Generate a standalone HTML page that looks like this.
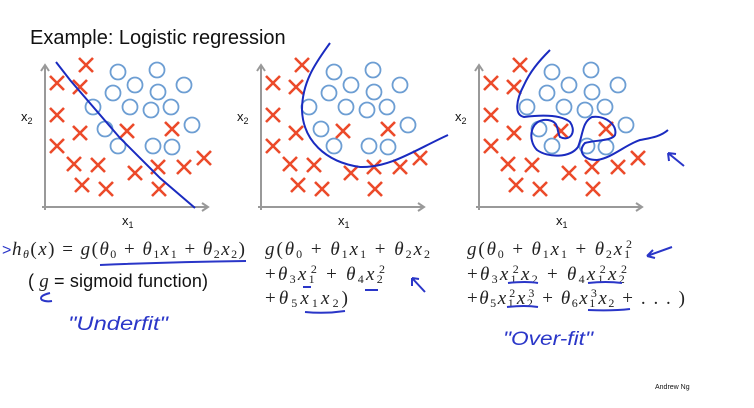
<!DOCTYPE html>
<html><head><meta charset="utf-8">
<style>
html,body{margin:0;padding:0;background:#fff;width:754px;height:408px;overflow:hidden}
svg{display:block}
.m{font-family:"Liberation Serif",serif;font-style:italic;font-size:19px;fill:#222}
.s{font-family:"Liberation Sans",sans-serif;fill:#111}
.h{font-family:"Liberation Sans",sans-serif;fill:#2a36c8;font-style:italic}
</style></head>
<body>
<svg id="c" width="754" height="408" viewBox="0 0 754 408">
<text x="30" y="44" class="s" font-size="20">Example: Logistic regression</text>
<text x="655" y="389" class="s" font-size="7">Andrew Ng</text>

<g>
<text x="2" y="255" fill="#2a36c8" font-size="16" font-family="Liberation Sans,sans-serif">&gt;</text>
<text x="12" y="255" class="m" textLength="233" lengthAdjust="spacing">h<tspan font-size="12" dy="3">θ</tspan><tspan dy="-3" font-style="normal">(</tspan>x<tspan font-style="normal">) = </tspan>g<tspan font-style="normal">(</tspan>θ<tspan font-size="12" dy="3" font-style="normal">0</tspan><tspan dy="-3" font-style="normal"> + </tspan>θ<tspan font-size="12" dy="3" font-style="normal">1</tspan><tspan dy="-3">x</tspan><tspan font-size="12" dy="3" font-style="normal">1</tspan><tspan dy="-3" font-style="normal"> + </tspan>θ<tspan font-size="12" dy="3" font-style="normal">2</tspan><tspan dy="-3">x</tspan><tspan font-size="12" dy="3" font-style="normal">2</tspan><tspan dy="-3" font-style="normal">)</tspan></text>
<path d="M100 265 Q170 262 246 261" stroke="#2a36c8" stroke-width="2" fill="none"/>
<text x="28" y="287" class="s" font-size="18" textLength="180" lengthAdjust="spacing">( <tspan class="m" font-size="18">g</tspan> = sigmoid function)</text>
<path d="M50 293 q-12 3 -8 7 q4 2 10 1" stroke="#2a36c8" stroke-width="2" fill="none"/>
<text x="68" y="330" class="h" font-size="19" textLength="100" lengthAdjust="spacingAndGlyphs">"Underfit"</text>
</g>

<g>
<text x="265" y="255" class="m" textLength="165" lengthAdjust="spacing">g<tspan font-style="normal">(</tspan>θ<tspan font-size="12" dy="3" font-style="normal">0</tspan><tspan dy="-3" font-style="normal"> + </tspan>θ<tspan font-size="12" dy="3" font-style="normal">1</tspan><tspan dy="-3">x</tspan><tspan font-size="12" dy="3" font-style="normal">1</tspan><tspan dy="-3" font-style="normal"> + </tspan>θ<tspan font-size="12" dy="3" font-style="normal">2</tspan><tspan dy="-3">x</tspan><tspan font-size="12" dy="3" font-style="normal">2</tspan></text>
<text x="265" y="280" class="m" textLength="120" lengthAdjust="spacing"><tspan font-style="normal">+</tspan>θ<tspan font-size="12" dy="3" font-style="normal">3</tspan><tspan dy="-3">x</tspan><tspan font-size="12" dy="3" font-style="normal">1</tspan><tspan font-size="12" dx="-6" dy="-10" font-style="normal">2</tspan><tspan dy="7" font-style="normal"> + </tspan>θ<tspan font-size="12" dy="3" font-style="normal">4</tspan><tspan dy="-3">x</tspan><tspan font-size="12" dy="3" font-style="normal">2</tspan><tspan font-size="12" dx="-6" dy="-10" font-style="normal">2</tspan></text>
<text x="265" y="304" class="m" textLength="83" lengthAdjust="spacing"><tspan font-style="normal">+</tspan>θ<tspan font-size="12" dy="3" font-style="normal">5</tspan><tspan dy="-3">x</tspan><tspan font-size="12" dy="3" font-style="normal">1</tspan><tspan dy="-3">x</tspan><tspan font-size="12" dy="3" font-style="normal">2</tspan><tspan dy="-3" font-style="normal">)</tspan></text>
<path d="M303 287 h8 M365 290 h13 M305 312 q20 2 40 -1" stroke="#2a36c8" stroke-width="2" fill="none"/>
<path d="M425 292 l-13 -14 M412 278 l0 8 M412 278 l7 1" stroke="#2a36c8" stroke-width="2" fill="none"/>
</g>

<g>
<text x="467" y="255" class="m" textLength="165" lengthAdjust="spacing">g<tspan font-style="normal">(</tspan>θ<tspan font-size="12" dy="3" font-style="normal">0</tspan><tspan dy="-3" font-style="normal"> + </tspan>θ<tspan font-size="12" dy="3" font-style="normal">1</tspan><tspan dy="-3">x</tspan><tspan font-size="12" dy="3" font-style="normal">1</tspan><tspan dy="-3" font-style="normal"> + </tspan>θ<tspan font-size="12" dy="3" font-style="normal">2</tspan><tspan dy="-3">x</tspan><tspan font-size="12" dy="3" font-style="normal">1</tspan><tspan font-size="12" dx="-6" dy="-10" font-style="normal">2</tspan></text>
<text x="467" y="280" class="m" textLength="160" lengthAdjust="spacing"><tspan font-style="normal">+</tspan>θ<tspan font-size="12" dy="3" font-style="normal">3</tspan><tspan dy="-3">x</tspan><tspan font-size="12" dy="3" font-style="normal">1</tspan><tspan font-size="12" dx="-6" dy="-10" font-style="normal">2</tspan><tspan dy="7">x</tspan><tspan font-size="12" dy="3" font-style="normal">2</tspan><tspan dy="-3" font-style="normal"> + </tspan>θ<tspan font-size="12" dy="3" font-style="normal">4</tspan><tspan dy="-3">x</tspan><tspan font-size="12" dy="3" font-style="normal">1</tspan><tspan font-size="12" dx="-6" dy="-10" font-style="normal">2</tspan><tspan dy="7">x</tspan><tspan font-size="12" dy="3" font-style="normal">2</tspan><tspan font-size="12" dx="-6" dy="-10" font-style="normal">2</tspan></text>
<text x="467" y="304" class="m" textLength="218" lengthAdjust="spacing"><tspan font-style="normal">+</tspan>θ<tspan font-size="12" dy="3" font-style="normal">5</tspan><tspan dy="-3">x</tspan><tspan font-size="12" dy="3" font-style="normal">1</tspan><tspan font-size="12" dx="-6" dy="-10" font-style="normal">2</tspan><tspan dy="7">x</tspan><tspan font-size="12" dy="3" font-style="normal">2</tspan><tspan font-size="12" dx="-6" dy="-10" font-style="normal">3</tspan><tspan dy="7" font-style="normal"> + </tspan>θ<tspan font-size="12" dy="3" font-style="normal">6</tspan><tspan dy="-3">x</tspan><tspan font-size="12" dy="3" font-style="normal">1</tspan><tspan font-size="12" dx="-6" dy="-10" font-style="normal">3</tspan><tspan dy="7">x</tspan><tspan font-size="12" dy="3" font-style="normal">2</tspan><tspan dy="-3" font-style="normal"> + . . . )</tspan></text>
<path d="M508 283 q18 -2 30 0 M588 283 q18 -2 34 0 M507 307 q18 -2 31 0 M588 310 q25 1 42 -1" stroke="#2a36c8" stroke-width="2" fill="none"/>
<path d="M672 247 l-25 9 M647 256 l6 -6 M647 256 l8 2" stroke="#2a36c8" stroke-width="2" fill="none"/>
<text x="503" y="345" class="h" font-size="19" textLength="90" lengthAdjust="spacingAndGlyphs">"Over-fit"</text>
</g>
</svg>
<script>
const crossX = [41,12,35,12,35,82,127,12,29,53,90,113,139,159,37,61,114];
const crossY = [142,124,120,92,74,76,78,61,43,42,34,40,40,49,22,18,18];
const circX = [73,112,90,139,68,113,48,85,106,126,60,147,73,108,127];
const circY = [135,137,122,122,114,115,100,100,97,100,78,82,61,61,60];
const origins = [[45,207],[261,207],[479,207]];
const NS = 'http://www.w3.org/2000/svg';
const svg = document.getElementById('c');
function el(t, a){const e=document.createElementNS(NS,t);for(const k in a)e.setAttribute(k,a[k]);svg.appendChild(e);return e;}
function sx(p,v){return origins[p][0]+v;}
function sy(p,v){return origins[p][1]-v;}
origins.forEach((o,p)=>{
  const ax = el('path',{d:`M${o[0]} ${o[1]+3} V${o[1]-142} M${o[0]-4} ${o[1]-136} L${o[0]} ${o[1]-142} L${o[0]+4} ${o[1]-136} M${o[0]-3} ${o[1]} H${o[0]+163} M${o[0]+157} ${o[1]-4} L${o[0]+163} ${o[1]} L${o[0]+157} ${o[1]+4}`,stroke:'#999','stroke-width':2,fill:'none'});
  
  
  const yl = el('text',{x:o[0]-24,y:o[1]-86,'font-family':'Liberation Sans,sans-serif','font-size':13,fill:'#111'});
  yl.innerHTML='x<tspan font-size="9" dy="3">2</tspan>';
  
  
  const xl = el('text',{x:o[0]+77,y:o[1]+18,'font-family':'Liberation Sans,sans-serif','font-size':13,fill:'#111'});
  xl.innerHTML='x<tspan font-size="9" dy="3">1</tspan>';
  
  
  for(let i=0;i<circX.length;i++){
    const c = el('circle',{cx:sx(p,circX[i]),cy:sy(p,circY[i]),r:7.5,fill:'none',stroke:'#6d9ed3','stroke-width':1.8});
    
    
  }
  for(let i=0;i<crossX.length;i++){
    const x=sx(p,crossX[i]), y=sy(p,crossY[i]);
    const c = el('path',{d:`M${x-7} ${y-7} L${x+7} ${y+7} M${x+7} ${y-7} L${x-7} ${y+7}`,stroke:'#ec4a2a','stroke-width':2.6,fill:'none'});
    
    
  }
});
const b1 = el('path',{d:'M56 62 L70 80 L120 138 L160 178 L195 208',stroke:'#1a2bc0','stroke-width':2,fill:'none'});


const b2 = el('path',{d:'M330 43 C318 60 302 80 302 110 C303 140 325 162 360 167 C390 168 415 150 448 135',stroke:'#1a2bc0','stroke-width':2,fill:'none'});


const b3 = el('path',{d:'M550 50 C538 62 530 72 524 85 C516 100 514 115 524 117 C540 115 560 114 570 122 C577 132 570 142 560 137 C556 130 560 122 548 120 C530 118 527 140 537 150 C548 158 570 158 578 147 C583 135 582 122 592 117 C605 115 618 125 615 135 C612 141 595 140 585 143 C578 150 582 160 597 160 C612 158 625 145 640 140 C650 138 660 137 668 130',stroke:'#1a2bc0','stroke-width':2,fill:'none'});


const ar = el('path',{d:'M684 166 L668 153 M668 153 l1 8 M668 153 l8 1',stroke:'#2a36c8','stroke-width':2,fill:'none'});


</script>
</body></html>
